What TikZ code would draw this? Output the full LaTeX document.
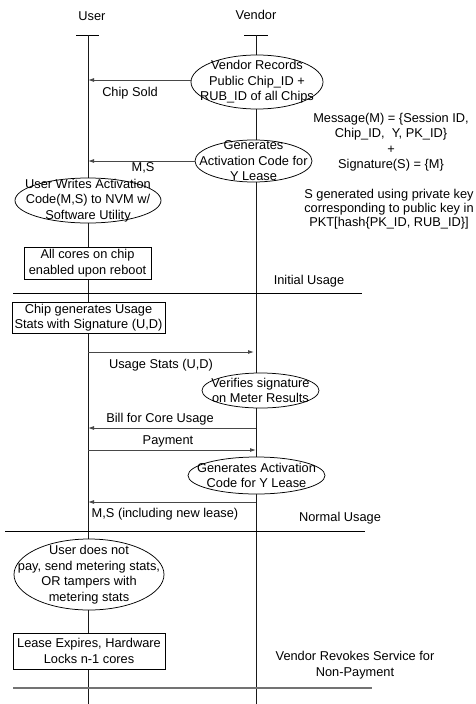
\documentclass[tikz,border=0pt]{standalone}
\usepackage{fontspec}
\setmainfont{Liberation Sans}
\usetikzlibrary{shapes.geometric,arrows.meta}

\tikzset{
  every node/.style={font=\fontsize{12.8pt}{15.5pt}\selectfont, inner sep=0pt, align=center},
  life/.style={line width=0.9pt, black!90},
  headbar/.style={line width=0.9pt, black},
  oval/.style={ellipse, draw, line width=0.75pt, fill=white},
  stepbox/.style={rectangle, draw, line width=0.75pt, fill=white},
  msg/.style={line width=0.9pt, black!72, -{Latex[length=6pt,width=4pt]}},
  sep/.style={line width=0.9pt, black},
  lastsep/.style={line width=1.2pt, black!55},
  note/.style={text=black}
}

\begin{document}
\begin{tikzpicture}[x=1pt,y=-1pt]
\useasboundingbox[fill=white] (0,0) rectangle (476,704);

% actors and their lifelines
\node (user) at (92,16) {User};
\node (vendor) at (256,15) {Vendor};
\coordinate (uTop) at (88,35);
\coordinate (uBot) at (88,704);
\coordinate (vTop) at (256,35);
\coordinate (vBot) at (256,704);
\draw[headbar] ([xshift=-12pt]uTop) -- ([xshift=11pt]uTop);
\draw[headbar] ([xshift=-12pt]vTop) -- ([xshift=12pt]vTop);
\draw[life] (uTop) -- (uBot);
\draw[life] (vTop) -- (vBot);

% activities
\node[oval, minimum width=132pt, minimum height=54pt] (vrec) at (257,82) {};
\node at (vrec) {Vendor Records\\Public Chip\_ID +\\RUB\_ID of all Chips};

\node[oval, minimum width=117pt, minimum height=42pt] (gen1) at (253.5,161) {};
\node at (gen1) {Generates\\Activation Code for\\Y Lease};

\node[oval, minimum width=146pt, minimum height=45pt] (uwr) at (88,200.5) {};
\node at (uwr) {User Writes Activation\\Code(M,S) to NVM w/\\Software Utility};

\node[stepbox, minimum width=127pt, minimum height=32pt] (cores) at (87.5,263) {};
\node at (cores) {All cores on chip\\enabled upon reboot};

\node[stepbox, minimum width=153pt, minimum height=31pt] (stats) at (88.5,317.5) {};
\node at (stats) {Chip generates Usage\\Stats with Signature (U,D)};

\node[oval, minimum width=117pt, minimum height=35pt] (verify) at (260.5,390.5) {};
\node at (verify) {Verifies signature\\on Meter Results};

\node[oval, minimum width=137pt, minimum height=37pt] (gen2) at (256.5,475.5) {};
\node at (gen2) {Generates Activation\\Code for Y Lease};

\node[oval, minimum width=150pt, minimum height=71pt] (nopay) at (89,574.5) {};
\node at (nopay) {User does not\\pay, send metering stats,\\OR tampers with\\metering stats};

\node[stepbox, minimum width=152pt, minimum height=36pt] (lease) at (89,651) {};
\node at (lease) {Lease Expires, Hardware\\Locks n-1 cores};

% messages
\draw[msg] ([yshift=2pt]vrec.west) -- ([yshift=2pt]vrec.west -| uTop);
\node (lsold) at (130,93) {Chip Sold};

\draw[msg] (gen1.west) -- (gen1.west -| uTop);
\node (lms1) at (143,168) {M,S};

\coordinate (uStats) at (88,352);
\coordinate (vStats) at (254,352);
\draw[msg] (uStats) -- (vStats);
\node (lstats) at (161,365) {Usage Stats (U,D)};

\coordinate (vBill) at (256,428);
\coordinate (uBill) at (88,428);
\draw[msg] (vBill) -- (uBill);
\node (lbill) at (160,419) {Bill for Core Usage};

\coordinate (uPay) at (88,450);
\coordinate (vPay) at (256,450);
\draw[msg] (uPay) -- (vPay);
\node (lpay) at (168,441) {Payment};

\coordinate (vLease) at (256,502);
\coordinate (uLease) at (88,502);
\draw[msg] (vLease) -- (uLease);
\node (lms2) at (165,514) {M,S (including new lease)};

% phase separators
\coordinate (s1a) at (13,293);
\coordinate (s1b) at (362,293);
\draw[sep] (s1a) -- (s1b);
\node (initial) at (309,281) {Initial Usage};

\coordinate (s2a) at (5,531);
\coordinate (s2b) at (365,531);
\draw[sep] (s2a) -- (s2b);
\node (normal) at (340,518) {Normal Usage};

\coordinate (s3a) at (13,688);
\coordinate (s3b) at (372,688);
\draw[lastsep] (s3a) -- (s3b);

% annotations
\node[note] (mdef) at (391,142) {Message(M) = \{Session ID,\\Chip\_ID,\ \ Y, PK\_ID\}\\+\\Signature(S) = \{M\}};
\node[note, font=\fontsize{12.8pt}{13.8pt}\selectfont] (sdef) at (389,209) {S generated using private key\\corresponding to public key in\\PKT[hash\{PK\_ID, RUB\_ID\}]};
\node[note] (revoke) at (355,665) {Vendor Revokes Service for\\Non-Payment};
\end{tikzpicture}
\end{document}
